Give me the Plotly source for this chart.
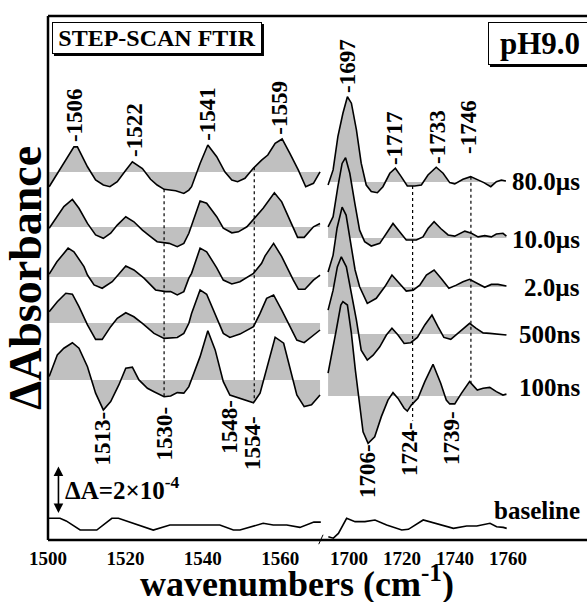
import numpy as np
import plotly.graph_objects as go

# ---------------- data (ΔA in units of 1e-4) ----------------
labels_time = ["80.0µs", "10.0µs", "2.0µs", "500ns", "100ns"]

# left panel (1500-1570 cm-1)
wn_L_80 = [1500.3,1506.7,1507.6,1510.2,1512.3,1514.3,1516.0,1517.9,1520.1,1521.8,1524.4,1526.5,1528.2,1530.0,1533.0,1535.1,1536.4,1537.1,1539.3,1541.3,1543.6,1545.7,1547.5,1549.0,1550.9,1553.0,1555.2,1556.8,1558.7,1560.5,1562.5,1564.7,1566.6,1568.6,1570.3]
dA_L_80 = [-0.61,1.05,1.05,0.22,-0.33,-0.54,-0.61,-0.40,0.08,0.43,0.15,-0.30,-0.54,-0.72,-0.78,-0.89,-0.75,-0.61,0.36,1.13,0.64,0.01,-0.33,-0.40,-0.26,0.15,0.50,0.71,1.20,1.38,0.78,0.08,-0.61,-0.47,0.01]

wn_L_10 = [1500.3,1502.4,1504.1,1506.3,1508.0,1510.2,1512.3,1514.3,1516.2,1517.9,1520.1,1522.2,1524.4,1526.5,1528.2,1531.3,1533.4,1535.1,1536.4,1539.3,1541.0,1543.6,1545.3,1547.5,1549.2,1551.4,1553.5,1555.6,1558.5,1560.4,1562.5,1564.5,1566.2,1568.6,1570.3]
dA_L_10 = [-0.05,0.43,0.85,1.15,0.78,0.15,-0.33,-0.47,-0.26,0.08,0.43,0.22,-0.13,-0.40,-0.61,-0.68,-0.82,-0.68,-0.26,1.08,0.99,0.43,-0.05,-0.24,-0.20,0.01,0.39,0.78,1.43,1.05,0.29,-0.43,-0.43,0.01,0.15]

wn_L_2 = [1500.3,1502.3,1505.2,1506.7,1509.3,1510.2,1511.9,1514.0,1516.6,1520.1,1522.2,1524.8,1527.8,1530.4,1531.7,1533.4,1535.1,1536.4,1537.1,1539.3,1541.0,1543.6,1545.3,1547.5,1549.6,1553.1,1555.2,1556.1,1558.3,1560.4,1563.4,1564.7,1566.4,1568.6,1570.3]
dA_L_2 = [0.12,0.63,1.20,1.05,0.43,0.08,-0.33,-0.47,-0.20,0.46,0.29,-0.05,-0.54,-0.61,-0.61,-0.75,-0.61,-0.05,0.15,1.20,1.05,0.38,-0.13,-0.29,-0.20,0.15,0.57,0.88,1.40,0.85,-0.13,-0.51,-0.51,-0.13,0.08]

wn_L_500 = [1500.3,1502.4,1504.6,1506.3,1508.0,1510.2,1512.3,1514.0,1516.2,1517.9,1520.1,1522.2,1524.4,1527.4,1530.0,1533.4,1535.1,1536.4,1537.1,1539.3,1541.0,1542.7,1544.5,1545.3,1547.0,1549.6,1553.1,1554.8,1556.5,1558.3,1560.4,1562.5,1564.3,1566.2,1568.6,1570.3]
dA_L_500 = [0.47,0.89,1.24,1.20,0.68,-0.08,-0.68,-0.68,-0.15,0.20,0.43,0.26,-0.01,-0.43,-0.64,-0.60,-0.43,-0.01,0.40,1.38,1.20,0.54,-0.08,-0.43,-0.60,-0.46,-0.15,0.40,1.03,1.17,0.54,-0.15,-0.71,-0.82,-0.50,-0.29]

wn_L_100 = [1500.3,1502.4,1504.1,1506.3,1508.0,1510.2,1512.3,1514.3,1516.2,1518.3,1520.1,1521.8,1523.5,1525.7,1527.4,1530.0,1531.7,1533.4,1535.1,1536.4,1539.3,1541.3,1543.2,1545.3,1547.0,1549.6,1553.1,1554.8,1556.5,1558.7,1560.9,1562.5,1564.3,1566.2,1568.1,1570.3]
dA_L_100 = [0.14,1.04,1.32,1.55,1.32,0.55,-0.55,-1.25,-0.90,-0.21,0.49,0.53,0.00,-0.35,-0.49,-0.70,-0.67,-0.53,-0.55,-0.28,0.97,2.05,1.25,-0.07,-0.63,-0.76,-0.95,-0.55,0.42,1.78,1.53,0.55,-0.63,-1.11,-1.04,-0.63]

wn_L_base = [1500.1,1503.1,1504.7,1508.3,1512.6,1516.5,1518.2,1527.2,1531.5,1544.4,1547.9,1549.6,1555.6,1558.2,1561.7,1565.1,1568.7,1570.5]
dA_L_base = [0.28,0.28,0.17,-0.21,-0.21,0.28,0.28,-0.21,0.00,0.00,-0.21,-0.21,0.07,0.00,0.00,-0.10,0.12,0.12]

# right panel (1692-1760 cm-1)
wn_R_80 = [1692.1,1694.0,1695.8,1697.7,1699.4,1700.9,1702.8,1704.6,1706.5,1708.4,1710.7,1712.8,1715.4,1717.5,1719.7,1722.0,1724.8,1727.3,1729.8,1732.9,1735.5,1738.0,1739.9,1743.0,1745.9,1748.4,1750.9,1753.5,1755.6,1757.5,1759.2]
dA_R_80 = [-0.13,0.50,1.89,2.86,3.55,3.28,2.17,0.78,-0.13,-0.40,-0.45,-0.20,0.36,0.57,0.22,-0.17,-0.17,-0.13,0.29,0.61,0.36,-0.03,-0.08,0.11,0.22,0.11,-0.03,-0.20,0.01,0.08,0.04]

wn_R_10 = [1692.1,1694.0,1695.8,1697.4,1698.7,1700.3,1702.2,1704.0,1705.9,1708.4,1711.6,1714.1,1716.6,1719.1,1721.6,1725.4,1727.9,1729.8,1732.1,1734.6,1737.4,1739.9,1743.7,1746.2,1748.7,1751.2,1753.7,1755.6,1758.1,1759.4]
dA_R_10 = [0.47,0.89,2.14,3.11,3.35,2.70,1.45,0.33,-0.15,-0.33,-0.22,0.20,0.61,0.26,-0.08,-0.08,0.05,0.40,0.68,0.40,0.13,0.08,0.29,0.20,0.05,0.10,0.05,0.17,0.20,0.08]

wn_R_2 = [1692.1,1694.0,1695.5,1697.4,1698.9,1700.9,1702.3,1704.0,1706.9,1710.3,1713.5,1716.2,1719.1,1721.6,1724.2,1726.7,1729.2,1732.1,1734.8,1737.7,1740.5,1743.0,1745.5,1748.4,1751.2,1753.7,1756.2,1759.4]
dA_R_2 = [0.63,1.33,2.46,3.33,3.00,1.54,0.71,0.01,-0.68,-0.47,0.01,0.50,0.15,-0.17,-0.13,0.08,0.50,0.71,0.36,-0.05,0.08,0.22,0.32,0.15,-0.01,0.11,0.11,0.04]

wn_R_500 = [1692.1,1694.0,1695.6,1697.1,1699.0,1700.9,1702.8,1704.6,1706.9,1709.1,1711.6,1714.1,1716.2,1718.5,1720.8,1723.3,1725.8,1728.6,1731.3,1733.6,1735.8,1738.4,1741.1,1743.7,1745.5,1748.0,1750.6,1753.1,1756.2,1759.4]
dA_R_500 = [1.00,1.83,2.80,3.22,2.80,1.70,0.58,-0.67,-1.08,-0.88,-0.53,-0.04,0.24,-0.04,-0.39,-0.36,-0.14,0.38,0.79,0.30,-0.14,-0.22,0.03,0.30,0.45,0.24,0.05,0.03,0.00,-0.04]

wn_R_100 = [1692.1,1693.6,1695.2,1696.9,1697.7,1699.4,1700.9,1702.4,1703.7,1705.3,1707.2,1709.7,1712.2,1714.7,1716.6,1718.5,1720.8,1722.0,1723.5,1726.0,1728.6,1731.7,1734.6,1736.7,1738.0,1739.9,1742.4,1745.5,1748.4,1750.6,1753.1,1755.6,1758.1,1759.4]
dA_R_100 = [0.95,1.78,2.75,3.79,3.93,3.79,2.61,1.08,-0.03,-1.49,-1.97,-1.70,-0.86,-0.17,0.14,-0.10,-0.51,-0.63,-0.38,-0.10,0.60,1.32,0.53,-0.17,-0.33,-0.33,0.11,0.60,0.25,0.32,0.36,0.18,0.04,0.08]

wn_R_base = [1692.2,1694.1,1696.0,1699.1,1702.3,1706.0,1709.8,1714.2,1719.9,1722.4,1728.0,1732.5,1735.6,1739.4,1744.4,1748.2,1753.2,1755.7,1758.2,1759.5]
dA_R_base = [-0.49,-0.55,-0.35,0.28,0.14,0.14,0.21,0.00,-0.21,-0.18,0.21,0.07,0.00,-0.14,-0.04,-0.04,0.07,-0.07,-0.10,-0.14]

# vertical stacking offsets (units of 1e-4)
offset_left = [15.33, 13.04, 10.96, 9.04, 6.67]
offset_right = [14.92, 12.58, 10.54, 8.58, 6.00]
offset_base = 0.625

peak_labels = ["-1506", "-1522", "-1541", "-1559", "-1697", "-1717", "-1733", "-1746"]
dip_labels = ["1513-", "1530-", "1548-", "1554-", "1706-", "1724-", "1739-"]
marker_left = [1530.0, 1553.3]
marker_right = [1724.0, 1746.0]
ticks_left = [1500, 1520, 1540, 1560]
ticks_right = [1700, 1720, 1740, 1760]

# ---------------- figure ----------------
FONT = "Liberation Serif"
GRAY = "#c0c0c0"
left = [(wn_L_80, dA_L_80), (wn_L_10, dA_L_10), (wn_L_2, dA_L_2), (wn_L_500, dA_L_500), (wn_L_100, dA_L_100)]
right = [(wn_R_80, dA_R_80), (wn_R_10, dA_R_10), (wn_R_2, dA_R_2), (wn_R_500, dA_R_500), (wn_R_100, dA_R_100)]

fig = go.Figure()

def add_spec(wn, dA, off, xa):
    fig.add_trace(go.Scatter(x=[wn[0], wn[-1]], y=[off, off], xaxis=xa, yaxis="y",
                             mode="lines", line=dict(width=0, color=GRAY),
                             showlegend=False, hoverinfo="skip"))
    fig.add_trace(go.Scatter(x=wn, y=np.array(dA) + off, xaxis=xa, yaxis="y",
                             mode="lines", fill="tonexty", fillcolor=GRAY,
                             line=dict(color="black", width=1.6),
                             showlegend=False, hoverinfo="skip"))

for (wn, dA), off in zip(left, offset_left):
    add_spec(wn, dA, off, "x")
for (wn, dA), off in zip(right, offset_right):
    add_spec(wn, dA, off, "x2")

fig.add_trace(go.Scatter(x=wn_L_base, y=np.array(dA_L_base) + offset_base, xaxis="x", yaxis="y",
                         mode="lines", line=dict(color="black", width=1.6), showlegend=False))
fig.add_trace(go.Scatter(x=wn_R_base, y=np.array(dA_R_base) + offset_base, xaxis="x2", yaxis="y",
                         mode="lines", line=dict(color="black", width=1.6), showlegend=False))

# dotted marker lines from top spectrum to bottom spectrum
def marker(wn0, top, bot, off_top, off_bot, xa, extra=0.0):
    yt = np.interp(wn0, top[0], top[1]) + off_top
    yb = np.interp(wn0, bot[0], bot[1]) + off_bot - extra
    fig.add_trace(go.Scatter(x=[wn0, wn0], y=[yt, yb], xaxis=xa, yaxis="y", mode="lines",
                             line=dict(color="black", width=1.2, dash="dot"), showlegend=False))

for w in marker_left:
    marker(w, left[0], left[-1], offset_left[0], offset_left[-1], "x")
for w in marker_right:
    marker(w, right[0], right[-1], offset_right[0], offset_right[-1], "x2",
           extra=0.7 if w == 1724.0 else 0.0)

DOM = 0.5083
fig.update_layout(
    width=587, height=602,
    margin=dict(l=48, r=0, t=16, b=62),
    paper_bgcolor="white", plot_bgcolor="white",
    xaxis=dict(domain=[0, DOM], range=[1500, 1570.8], tickvals=ticks_left,
               showgrid=False, zeroline=False, showline=False, ticks="", ticklabelstandoff=5,
               tickfont=dict(family=FONT, size=19, color="black", weight="bold")),
    xaxis2=dict(domain=[DOM, 1], range=[1689.8, 1789.8], tickvals=ticks_right, anchor="y",
                showgrid=False, zeroline=False, showline=False, ticks="", ticklabelstandoff=5,
                tickfont=dict(family=FONT, size=19, color="black", weight="bold")),
    yaxis=dict(range=[0, 21.833], showgrid=False, zeroline=False, showticklabels=False,
               showline=False, ticks=""),
)

# frame
for (x0, y0, x1, y1) in [(0, 1, 1, 1), (0, 0, 0, 1), (0, 0, 1, 0)]:
    fig.add_shape(type="line", xref="paper", yref="paper", x0=x0, y0=y0, x1=x1, y1=y1,
                  line=dict(color="black", width=2.5))
fig.add_shape(type="line", xref="paper", yref="paper", x0=DOM - 0.006, y0=-0.008, x1=DOM + 0.002, y1=0.01,
              line=dict(color="black", width=1))

# box shadows
fig.add_shape(type="rect", xref="paper", yref="paper", x0=0.0111, x1=0.4007, y0=0.9237, y1=0.9847,
              fillcolor="black", line=dict(width=0), layer="above")
fig.add_shape(type="rect", xref="paper", yref="paper", x0=0.8200, x1=1.02, y0=0.9027, y1=0.9847,
              fillcolor="black", line=dict(width=0), layer="above")

def txt(text, x, y, size, xref="x", yref="y", angle=0, xanchor="center", yanchor="middle", **kw):
    fig.add_annotation(text=text, x=x, y=y, xref=xref, yref=yref, textangle=angle,
                       xanchor=xanchor, yanchor=yanchor, showarrow=False,
                       font=dict(family=FONT, size=size, color="black", weight="bold"), **kw)

# peak labels (positions in axis units)
peak_pos = [("x", 1507.0, 17.71), ("x", 1522.2, 17.08), ("x", 1541.3, 17.75), ("x", 1559.9, 18.0),
            ("x2", 1699.6, 19.75), ("x2", 1717.4, 16.75), ("x2", 1733.2, 16.79), ("x2", 1745.3, 17.21)]
for lab, (xa, xv, yv) in zip(peak_labels, peak_pos):
    txt(lab, xv, yv, 23, xref=xa, angle=-90)
dip_pos = [("x", 1514.1, 4.21), ("x", 1530.0, 4.44), ("x", 1547.0, 4.71), ("x", 1552.7, 4.04),
           ("x2", 1706.8, 2.875), ("x2", 1722.6, 3.79), ("x2", 1738.5, 4.25)]
for lab, (xa, xv, yv) in zip(dip_labels, dip_pos):
    txt(lab, xv, yv, 23, xref=xa, angle=-90)

# time labels
label_shift = [0, -1, 0, 0, 9]
for lab, off, sh in zip(labels_time, offset_right, label_shift):
    txt(lab, 1788.0, off, 25, xref="x2", xanchor="right", yshift=sh)
txt("baseline", 1788.0, 1.25, 25, xref="x2", xanchor="right")

# scale bar
fig.add_annotation(x=1502.7, y=offset_base + 0.5, ax=1502.7, ay=offset_base + 2.5,
                   xref="x", yref="y", axref="x", ayref="y", text="", showarrow=True,
                   arrowhead=2, arrowside="end+start", arrowsize=1.2, arrowwidth=1.6, arrowcolor="black")
txt("ΔA=2×10<sup>-4</sup>", 1503.8, 2.17, 25, xanchor="left")

# boxes
txt("STEP-SCAN FTIR", 0.2022, 0.9580, 24, xref="paper", yref="paper",
    bgcolor="white", bordercolor="black", borderwidth=1, borderpad=2, width=204, height=26)
txt("pH9.0", 0.8163, 0.9475, 31, xref="paper", yref="paper", xanchor="left",
    bgcolor="white", bordercolor="black", borderwidth=1, borderpad=2, width=98, height=37)

# axis titles
txt("ΔAbsorbance", -0.043, 0.50, 46, xref="paper", yref="paper", angle=-90)
txt("wavenumbers (cm<sup>-1</sup>)", 0.462, -0.080, 36, xref="paper", yref="paper")

fig.write_html("out.html", config={"displayModeBar": False},
               post_script="document.body.style.margin='0px';document.body.style.overflow='hidden';")
